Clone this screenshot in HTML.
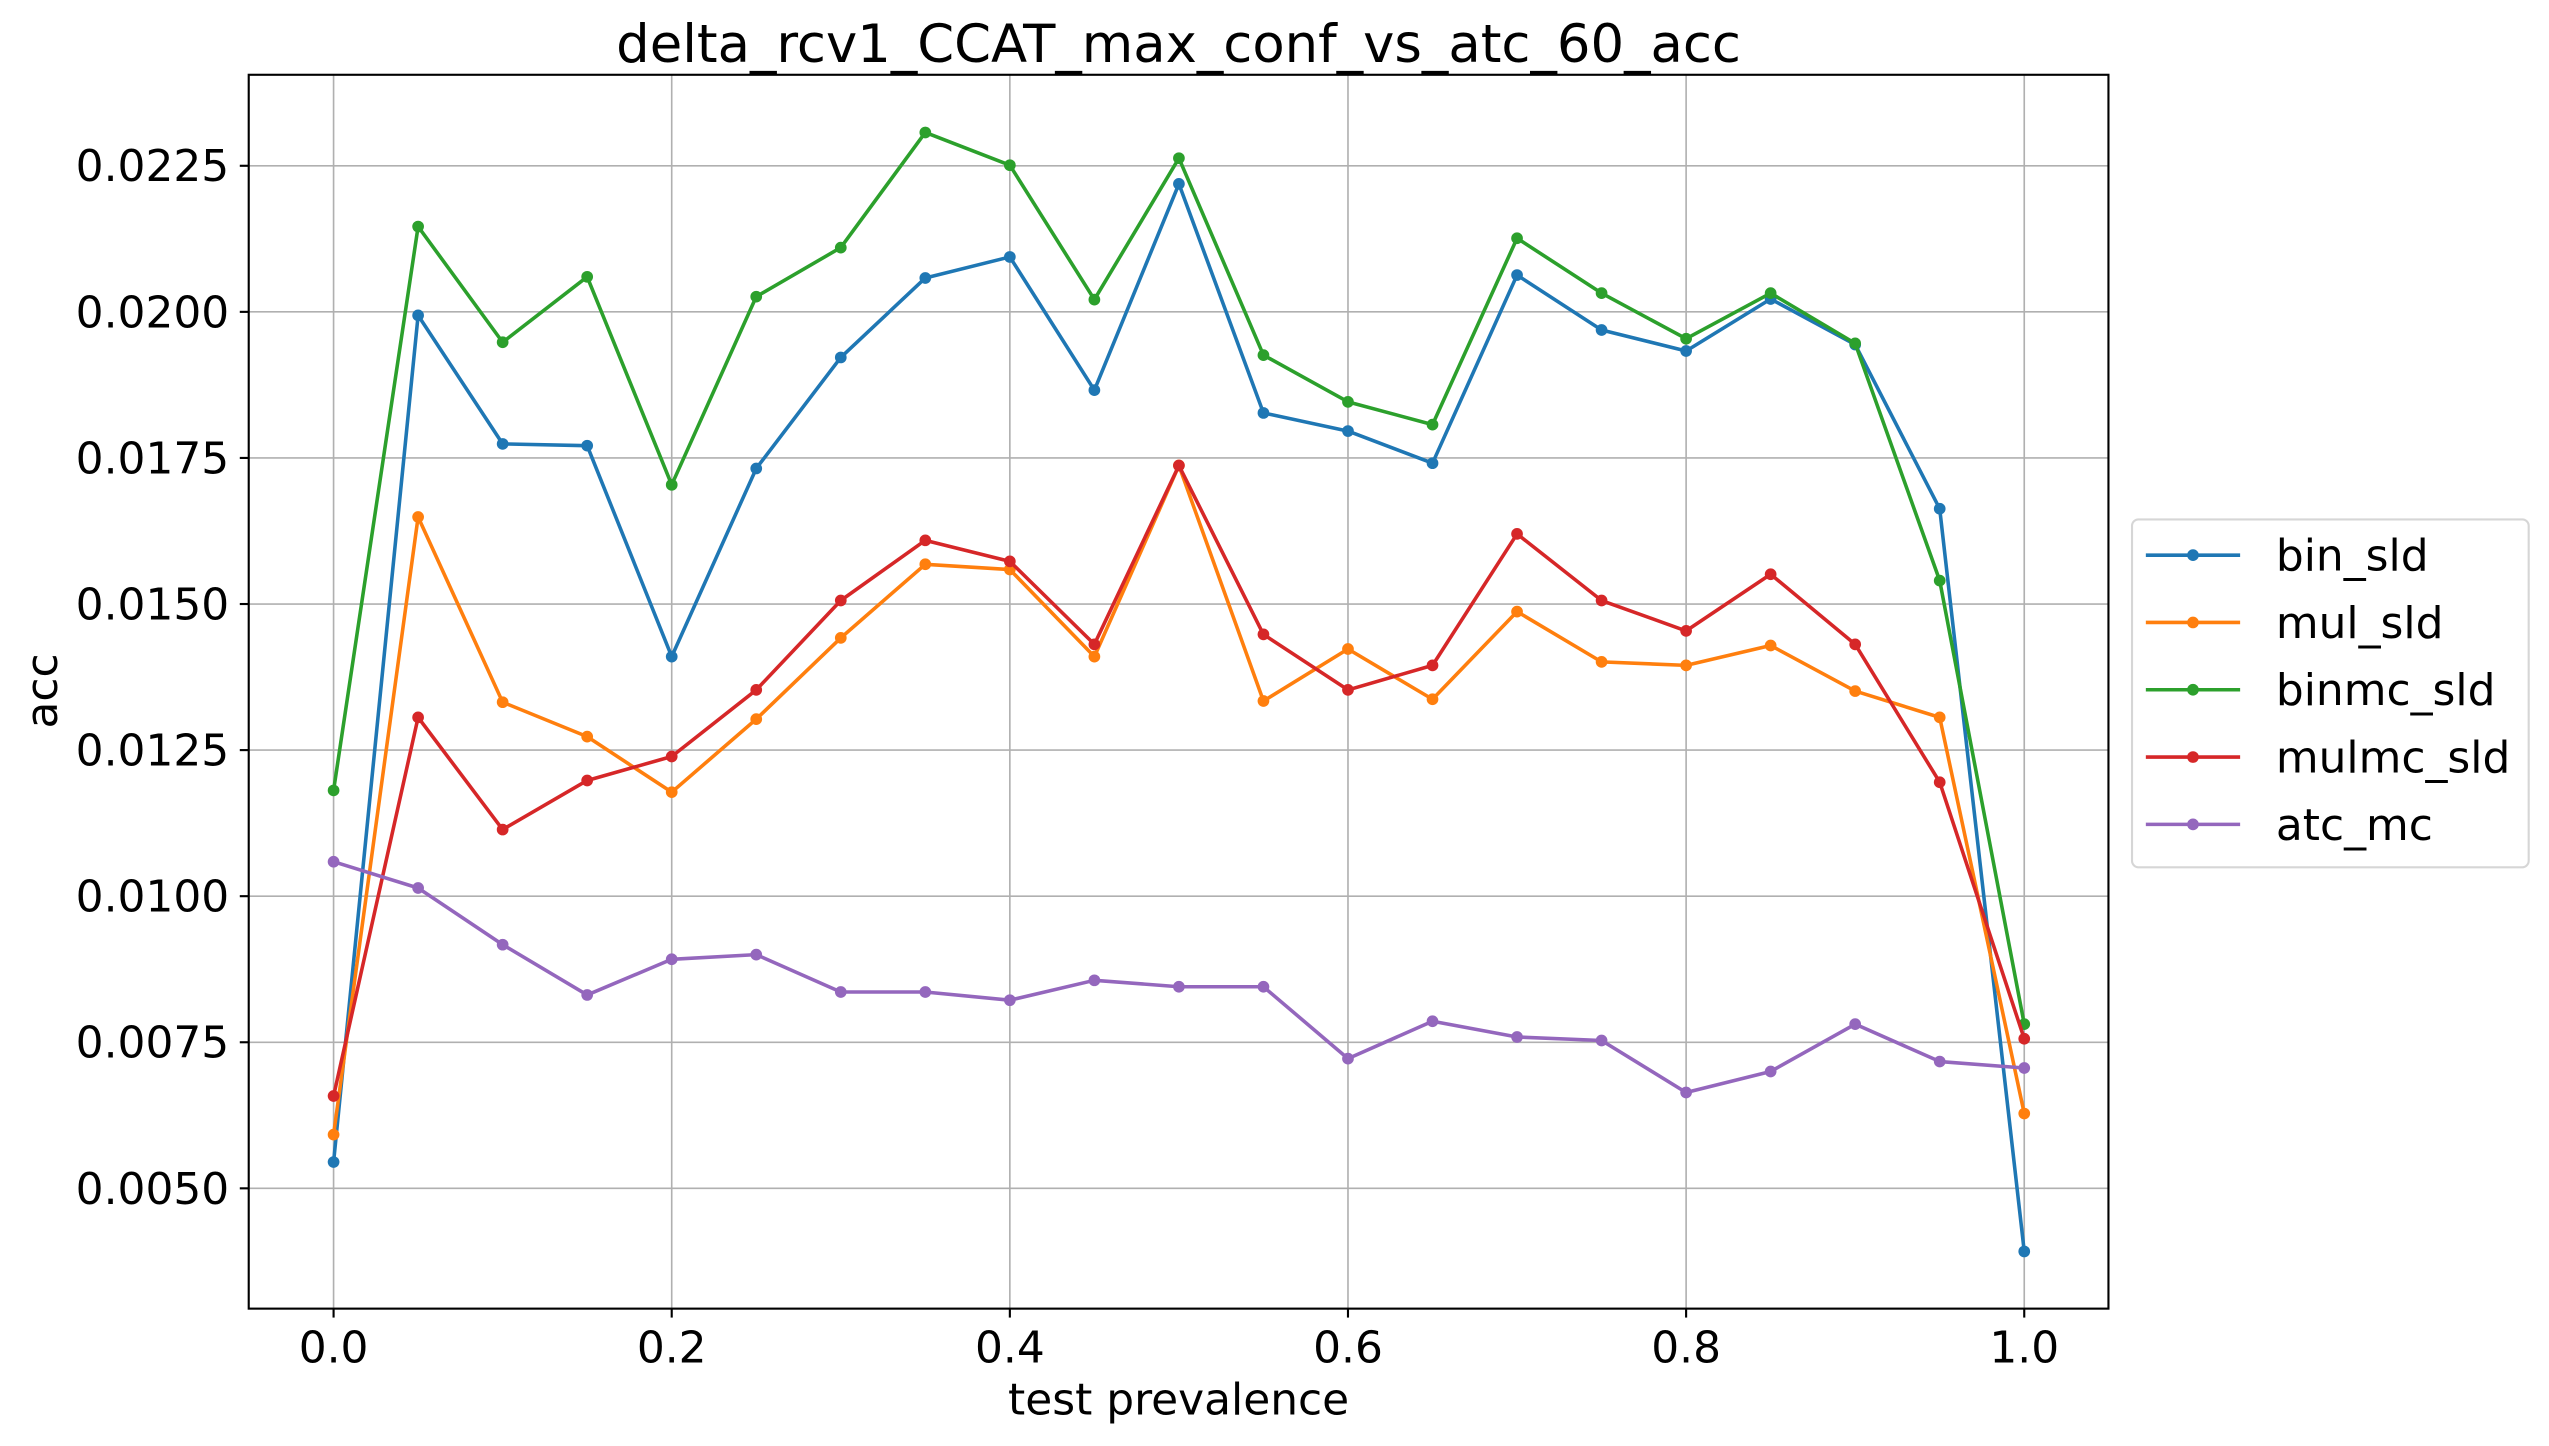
<!DOCTYPE html>
<html><head><meta charset="utf-8">
<style>
html,body{margin:0;padding:0;background:#fff;}
svg{display:block;font-family:"DejaVu Sans","Liberation Sans",sans-serif;}
</style></head>
<body>
<svg id="chart" width="2549" height="1446" viewBox="0 0 1568 889.5" preserveAspectRatio="none" xmlns="http://www.w3.org/2000/svg">
<rect x="0" y="0" width="1568" height="889.5" fill="#fff"/>
<text x="725" y="38" font-size="32.5" text-anchor="middle">delta_rcv1_CCAT_max_conf_vs_atc_60_acc</text>
<g id="grid"></g>
<g id="ticks"></g>
<g id="series"></g>
<rect x="153" y="46" width="1144" height="759" fill="none" stroke="#000" stroke-width="1.3"/>
<text x="725" y="870" font-size="27" text-anchor="middle">test prevalence</text>
<text x="0" y="0" font-size="27" text-anchor="middle" transform="translate(35,425) rotate(-90)">acc</text>
<g id="legend">
<rect x="1311.5" y="319.5" width="244" height="214" rx="4" fill="#fff" stroke="#d6d6d6" stroke-width="1.3"/>
</g>
</svg>
<script>
const xValues=[0,0.05,0.1,0.15,0.2,0.25,0.3,0.35,0.4,0.45,0.5,0.55,0.6,0.65,0.7,0.75,0.8,0.85,0.9,0.95,1.0];
const binSld=[0.00545,0.01994,0.01774,0.01771,0.0141,0.01732,0.01922,0.02058,0.02094,0.01866,0.02219,0.01827,0.01796,0.01741,0.02063,0.01969,0.01933,0.02022,0.01944,0.01663,0.00392];
const mulSld=[0.00592,0.01649,0.01332,0.01273,0.01178,0.01303,0.01442,0.01568,0.01559,0.0141,0.01737,0.01334,0.01423,0.01337,0.01487,0.01401,0.01395,0.01429,0.01351,0.01306,0.00628];
const binmcSld=[0.01181,0.02146,0.01948,0.0206,0.01704,0.02026,0.0211,0.02307,0.02251,0.02021,0.02263,0.01926,0.01846,0.01807,0.02126,0.02032,0.01954,0.02032,0.01946,0.0154,0.00781];
const mulmcSld=[0.00658,0.01306,0.01114,0.01198,0.01239,0.01353,0.01506,0.01609,0.01573,0.01431,0.01737,0.01448,0.01353,0.01395,0.0162,0.01506,0.01454,0.01551,0.01431,0.01195,0.00756];
const atcMc=[0.01059,0.01014,0.00917,0.00831,0.00892,0.009,0.00836,0.00836,0.00822,0.00856,0.00845,0.00845,0.00722,0.00786,0.00759,0.00753,0.00664,0.007,0.00781,0.00717,0.00706];
const seriesNames=["bin_sld","mul_sld","binmc_sld","mulmc_sld","atc_mc"];
const seriesColors=["#1f77b4","#ff7f0e","#2ca02c","#d62728","#9467bd"];
const xTicks=[0,0.2,0.4,0.6,0.8,1.0];
const xTickLabels=["0.0","0.2","0.4","0.6","0.8","1.0"];
const yTicks=[0.005,0.0075,0.01,0.0125,0.015,0.0175,0.02,0.0225];
const yTickLabels=["0.0050","0.0075","0.0100","0.0125","0.0150","0.0175","0.0200","0.0225"];

const NS="http://www.w3.org/2000/svg";
function xs(v){return 205.2+v*1040;}
function ys(v){return 731-(v-0.005)/0.0025*89.86;}
function mk(tag,attrs,parent){const e=document.createElementNS(NS,tag);for(const k in attrs)e.setAttribute(k,attrs[k]);parent.appendChild(e);return e;}
const grid=document.getElementById('grid'),ticks=document.getElementById('ticks'),ser=document.getElementById('series'),leg=document.getElementById('legend');

xTicks.forEach((t,i)=>{
  const g=mk('line',{x1:xs(t),x2:xs(t),y1:46,y2:805,stroke:'#b0b0b0','stroke-width':1},grid);
  
  
  const tk=mk('line',{x1:xs(t),x2:xs(t),y1:805,y2:810.5,stroke:'#000','stroke-width':1.3},ticks);
  
  
  const tx=mk('text',{x:xs(t),y:838,'font-size':27,'text-anchor':'middle'},ticks);
  tx.textContent=xTickLabels[i];
  
  
});
yTicks.forEach((t,i)=>{
  const g=mk('line',{x1:153,x2:1297,y1:ys(t),y2:ys(t),stroke:'#b0b0b0','stroke-width':1},grid);
  
  
  const tk=mk('line',{x1:147.5,x2:153,y1:ys(t),y2:ys(t),stroke:'#000','stroke-width':1.3},ticks);
  
  
  const tx=mk('text',{x:141,y:ys(t)+9.5,'font-size':27,'text-anchor':'end'},ticks);
  tx.textContent=yTickLabels[i];
  
  
});
const allSeries=[binSld,mulSld,binmcSld,mulmcSld,atcMc];
allSeries.forEach((vals,si)=>{
  const c=seriesColors[si];
  const pts=vals.map((v,i)=>xs(xValues[i]).toFixed(2)+','+ys(v).toFixed(2)).join(' ');
  const pl=mk('polyline',{points:pts,fill:'none',stroke:c,'stroke-width':2.2,'stroke-linejoin':'round'},ser);
  
  
  vals.forEach((v,i)=>{
    const p=mk('circle',{cx:xs(xValues[i]),cy:ys(v),r:3.6,fill:c},ser);
    
    
  });
  const y=341.5+si*41.4;
  const ll=mk('line',{x1:1320,x2:1378,y1:y,y2:y,stroke:c,'stroke-width':2.2},leg);
  
  
  mk('circle',{cx:1349,cy:y,r:3.6,fill:c},leg);
  const lt=mk('text',{x:1400,y:y+9.5,'font-size':27},leg);
  lt.textContent=seriesNames[si];
  
  
});
</script>
</body></html>
